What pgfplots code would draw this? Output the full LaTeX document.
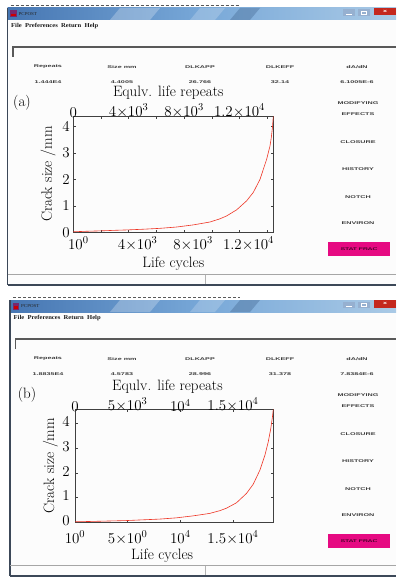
\RequirePackage{fix-cm}
\documentclass[border=0pt]{standalone}
\usepackage{fontspec}
\newfontfamily\uifont[FakeStretch=1.8]{Liberation Sans}
\newfontfamily\menufont[FakeStretch=1.1]{Liberation Serif}
\usepackage{pgfplots}
\pgfplotsset{compat=1.18}

\definecolor{curve}{RGB}{238,52,36}
\definecolor{frame}{RGB}{60,72,88}
\definecolor{tbA}{RGB}{70,118,178}
\definecolor{tbB}{RGB}{120,168,216}
\definecolor{tbC}{RGB}{170,202,230}
\definecolor{btnc}{RGB}{150,176,208}
\definecolor{closec}{RGB}{196,40,30}
\definecolor{pinkbtn}{RGB}{230,10,130}
\definecolor{uitext}{RGB}{60,60,60}
\definecolor{iconc}{RGB}{120,40,110}
\definecolor{panel}{RGB}{252,252,252}

\newcommand\axfont{\fontsize{15}{16}\selectfont}

% one PCPOST window: left, top, bottom, then the five read-out values
\newcommand\uiwindow[8]{%
  \def\winL{#1}\def\winT{#2}\def\winB{#3}%
  \fill[panel] (\winL,\winT) rectangle (396,\winB);
  \draw[gray!70!black, dash pattern=on 3pt off 2pt, line width=1pt]
    (\winL+3,\winT-2.5) -- (240,\winT-2.5);
  % title bar
  \shade[left color=tbA, right color=tbC, middle color=tbB]
    (\winL,\winT) rectangle (396,\winT+12);
  \fill[white, opacity=0.25] (120,\winT) -- (160,\winT) -- (150,\winT+12) -- (110,\winT+12) -- cycle;
  \fill[white, opacity=0.2] (200,\winT) -- (225,\winT) -- (215,\winT+12) -- (190,\winT+12) -- cycle;
  \fill[tbA!70!black, opacity=0.3] (240,\winT) -- (260,\winT) -- (250,\winT+12) -- (230,\winT+12) -- cycle;
  \fill[iconc] (\winL+2.5,\winT+2.5) rectangle (\winL+9,\winT+9.5);
  \fill[red!80!black] (\winL+3.5,\winT+6) rectangle (\winL+8,\winT+8.5);
  \node[anchor=west, inner sep=0pt, text=black!85, font=\menufont\fontsize{4.5}{5}\selectfont]
    at (\winL+11,\winT+6) {PCPOST};
  \fill[btnc] (343,\winT+1.5) rectangle (355,\winT+8);
  \draw[white, line width=0.8pt] (346,\winT+6) -- (352,\winT+6);
  \fill[btnc] (358,\winT+1.5) rectangle (370,\winT+8);
  \draw[white, line width=0.6pt] (361.5,\winT+3) rectangle (366.5,\winT+6.5);
  \fill[closec] (374,\winT) rectangle (396,\winT+7.5);
  \node[text=white, inner sep=0pt, font=\uifont\bfseries\fontsize{4}{4}\selectfont] at (385,\winT+3.8) {x};
  % menu line
  \node[anchor=west, inner sep=0pt, text=black!90, font=\menufont\bfseries\fontsize{6}{6}\selectfont]
    at (\winL+3.5,\winT+18.5) {File\ \ Preferences\ \ Return\ \ Help};
  % input field
  \draw[black!65, line width=1.2pt] (\winL+5.5,\winT+49) -- (\winL+5.5,\winT+39) -- (396,\winT+39);
  % frame and status bar
  \draw[frame, line width=1.1pt] (\winL,\winT) -- (\winL,\winB);
  \draw[gray!70, line width=0.8pt] (\winL,\winB-11) -- (396,\winB-11);
  \draw[gray!60, line width=0.6pt] (205,\winB-10) -- (205,\winB);
  \draw[frame, line width=1.4pt] (\winL,\winB) -- (396,\winB);
  % read-out table
  \begin{scope}[every node/.style={text=uitext, inner sep=0pt, font=\uifont\bfseries\fontsize{4}{4}\selectfont}]
    \node at (48,\winT+59) {Repeats};
    \node at (122,\winT+59) {Size mm};
    \node at (200,\winT+59) {DLKAPP};
    \node at (280,\winT+59) {DLKEFF};
    \node at (357,\winT+59) {dA/dN};
    \node at (48,\winT+74) {#4};
    \node at (122,\winT+74) {#5};
    \node at (200,\winT+74) {#6};
    \node at (280,\winT+74) {#7};
    \node at (357,\winT+74) {#8};
    \node at (358,\winT+95) {MODIFYING};
    \node at (358,\winT+106) {EFFECTS};
    \node at (358,\winT+134) {CLOSURE};
    \node at (358,\winT+161) {HISTORY};
    \node at (358,\winT+189) {NOTCH};
    \node at (358,\winT+215) {ENVIRON};
  \end{scope}
  \fill[pinkbtn] (328,\winT+234) rectangle (390,\winT+248);
  \node[text=black, inner sep=0pt, font=\uifont\fontsize{3.8}{4}\selectfont] at (359,\winT+241) {STAT FRAC};
}

\pgfplotsset{
  crack/.style={
    scale only axis, anchor=south west, ymin=0,
    scaled x ticks=false, scaled y ticks=false,
    tick align=inside, major tick length=2.5pt,
    tick label style={font=\axfont},
    label style={font=\axfont},
    axis line style={line width=0.7pt, black!75},
    every tick/.append style={line width=0.6pt, black!75},
  },
}

\begin{document}
\begin{tikzpicture}
\useasboundingbox (0pt,0pt) rectangle (396pt,-577pt);
\fill[white] (0pt,0pt) rectangle (396pt,-577pt);
\begin{scope}[x=1pt,y=-1pt]
  \uiwindow{7.5}{8}{285}{1.444E4}{4.4005}{26.766}{32.14}{6.1005E-6}
  \uiwindow{10}{300}{576}{1.8835E4}{4.5783}{28.996}{31.378}{7.8384E-6}
  \node[font=\axfont] at (22,103) {(a)};
  \node[font=\axfont] at (27,395) {(b)};
\end{scope}

% ---- (a) ----
\begin{axis}[crack,
  at={(73.3pt,-232.3pt)}, width=200pt, height=116.3pt,
  xmin=0, xmax=14440, ymax=4.4005,
  xtick={0,2000,...,14000},
  xticklabels={$10^{0}$\kern8pt,,$4{\times}10^{3}$,,$8{\times}10^{3}$,,$1.2{\times}10^{4}$,},
  xticklabel style={xshift=9pt, yshift=-1pt},
  ytick={0,1,2,3,4},
  xlabel={Life cycles}, ylabel={Crack size /mm},
]
\addplot[curve, line width=0.6pt] coordinates {
  (0,0.02) (1000,0.04) (2000,0.055) (3000,0.075) (3850,0.09) (5000,0.115)
  (6257,0.15) (7460,0.20) (8664,0.28) (9867,0.39) (10589,0.51) (11070,0.62)
  (11792,0.85) (12514,1.19) (12996,1.51) (13477,2.00) (13958,2.76)
  (14199,3.26) (14300,3.60) (14380,3.98) (14440,4.4005)
};
\end{axis}
\begin{axis}[crack,
  at={(73.3pt,-232.3pt)}, width=200pt, height=116.3pt,
  xmin=0, xmax=14440, ymax=4.4005,
  axis x line*=top, axis y line=none, major tick length=0pt,
  xtick={0,4000,8000,12000},
  xticklabels={$0$,$4{\times}10^{3}$,$8{\times}10^{3}$,$1.2{\times}10^{4}$},
  xticklabel style={yshift=-5pt},
  xlabel={Equlv. life repeats},
  xlabel style={at={(axis description cs:0.475,1)}, anchor=center, yshift=23pt},
]
\end{axis}

% ---- (b) ----
\begin{axis}[crack,
  at={(75pt,-522.3pt)}, width=198.3pt, height=113.3pt,
  xmin=0, xmax=18835, ymax=4.5783,
  xtick={0,5000,10000,15000},
  xticklabels={$10^{0}$,$5{\times}10^{0}$,$10^{4}$,$1.5{\times}10^{4}$},
  xticklabel style={inner sep=1pt, yshift=-7.5pt},
  yticklabel style={inner sep=1pt, xshift=-4pt, yshift=1.5pt},
  ytick={0,1,2,3,4},
  xlabel={Life cycles}, ylabel={Crack size /mm},
  xlabel style={xshift=-12pt},
]
\addplot[curve, line width=0.6pt] coordinates {
  (0,0.02) (2000,0.04) (4860,0.07) (8036,0.13) (9624,0.18) (11212,0.26)
  (12800,0.36) (13753,0.47) (14388,0.57) (15341,0.79) (16294,1.17)
  (16929,1.54) (17564,2.11) (18041,2.72) (18359,3.26) (18600,3.80)
  (18750,4.25) (18835,4.5783)
};
\end{axis}
\begin{axis}[crack,
  at={(75pt,-522.3pt)}, width=198.3pt, height=113.3pt,
  xmin=0, xmax=18835, ymax=4.5783,
  axis x line*=top, axis y line=none, major tick length=0pt,
  xtick={0,5000,10000,15000},
  xticklabels={$0$,$5{\times}10^{3}$,$10^{4}$,$1.5{\times}10^{4}$},
  xticklabel style={yshift=-6pt},
  xlabel={Equlv. life repeats},
  xlabel style={at={(axis description cs:0.466,1)}, anchor=center, yshift=22pt},
]
\end{axis}
\end{tikzpicture}
\end{document}
